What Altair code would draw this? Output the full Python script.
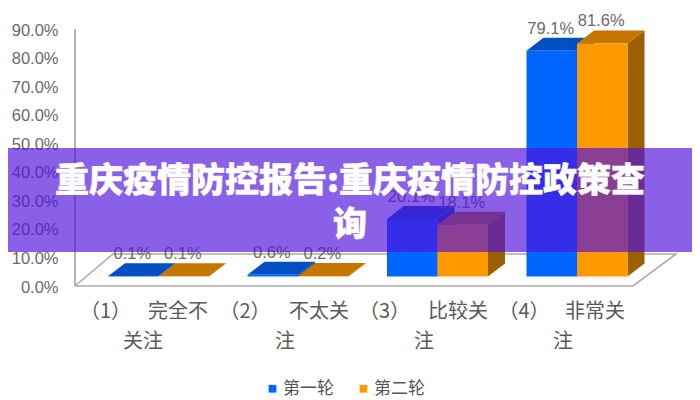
import altair as alt
import pandas as pd

categories = [0, 1, 2, 3]
first_round = [0.001, 0.006, 0.201, 0.791]
second_round = [0.001, 0.002, 0.181, 0.816]
series_names = ["第一轮", "第二轮"]
tick_prefix = ["（1）", "（2）", "（3）", "（4）"]
label_line1 = ["完全不", "不太关", "比较关", "非常关"]
label_line2 = ["关注", "注", "注", "注"]
banner_lines = ["重庆疫情防控报告:重庆疫情防控政策查", "询"]

# layout, in data units (1 x unit = one category)
PXX = 139.5
PXY = 257 / 0.9
PLOT_W = 617
X_MAX = PLOT_W / PXX
GROUP_LEFT = 33 / PXX
BAR_W = 50.5 / PXX
DX = 17 / PXX
DY = 13 / PXY
BASE = 9.5 / PXY
FLOOR_DX1 = 38 / PXX
FLOOR_DY = 32 / PXY
FLOOR_RIGHT = 558 / PXX
FLOOR_BACK_RIGHT = 601 / PXX

x_scale = alt.Scale(domain=[0, X_MAX], nice=False, zero=False)
y_scale = alt.Scale(domain=[0, 0.9], nice=False, zero=False)
y_axis = alt.Axis(
    title=None, format=".1%", values=[i / 10 for i in range(10)],
    grid=False, ticks=False, domain=False, labelPadding=17, labelOffset=1,
    labelFont="Liberation Sans", labelFontSize=16.5, labelColor="#6a6a6a")
FRONT = {"第一轮": "#0066ff", "第二轮": "#ff9900"}
TOP = {"第一轮": "#0050c4", "第二轮": "#c47600"}
SIDE = {"第一轮": "#0044a0", "第二轮": "#9c6000"}

rows = []
for s, (name, vals) in enumerate(zip(series_names, [first_round, second_round])):
    for c, v in zip(categories, vals):
        xl = c + GROUP_LEFT + s * BAR_W
        rows.append(dict(series=name, group=c, v=v, xl=xl, xr=xl + BAR_W,
                         top=BASE + v, base=BASE, label=f"{v*100:.1f}%",
                         xc=xl + BAR_W / 2 - 1 / PXX))
bars = pd.DataFrame(rows)

X = lambda f: alt.X(f, type="quantitative", scale=x_scale, axis=None)
Y = lambda f: alt.Y(f, type="quantitative", scale=y_scale, stack=None,
                    axis=y_axis)

# floor outline
floor = pd.DataFrame({
    "x": [0, FLOOR_RIGHT, FLOOR_BACK_RIGHT, FLOOR_DX1, 0],
    "y": [0, 0, FLOOR_DY, FLOOR_DY, 0],
    "o": [0, 1, 2, 3, 4],
})
floor_line = alt.Chart(floor).mark_line(color="#ababab", strokeWidth=1.6).encode(
    x=X("x"), y=Y("y"), order=alt.Order("o:Q"))

# back wall edge
axis_layer = alt.Chart(pd.DataFrame({"y": [0, 0.9], "x": [0, 0]})).mark_line(
    color="#808080", strokeWidth=1.2).encode(x=X("x"), y=Y("y"))

layers = [axis_layer, floor_line]
for name in series_names:
    b = bars[bars.series == name]
    side = []
    top = []
    for r in b.to_dict("records"):
        side += [dict(id=r["group"], x=r["xr"], y=r["top"], y2=r["base"]),
                 dict(id=r["group"], x=r["xr"] + DX, y=r["top"] + DY, y2=r["base"] + DY)]
        top += [dict(id=r["group"], y=r["top"], x=r["xl"], x2=r["xr"]),
                dict(id=r["group"], y=r["top"] + DY, x=r["xl"] + DX, x2=r["xr"] + DX)]
    layers.append(alt.Chart(pd.DataFrame(side)).mark_area(
        color=SIDE[name], orient="vertical").encode(
        x=X("x"), y=Y("y"), y2="y2", detail="id:N"))
    layers.append(alt.Chart(pd.DataFrame(top)).mark_area(
        color=TOP[name], orient="horizontal").encode(
        y=Y("y"), x=X("x"), x2="x2", detail="id:N"))
    layers.append(alt.Chart(b).mark_rect().encode(
        x=X("xl"), x2="xr", y=Y("base"), y2="top",
        color=alt.Color("series:N", scale=alt.Scale(
            domain=series_names, range=[FRONT[n] for n in series_names]),
            legend=alt.Legend(
                title=None, orient="none", direction="horizontal",
                legendX=189, legendY=351, symbolType="square", symbolSize=60,
                labelFont="Noto Sans CJK SC", labelFontSize=17,
                labelColor="#555555", columnPadding=21, labelOffset=2,
                labelLimit=200))))

# value labels
layers.append(alt.Chart(bars).mark_text(
    font="Liberation Sans", fontSize=16.5, color="#6a6a6a", dy=-22, baseline="middle"
).encode(x=X("xc"), y=Y("top"), text="label:N"))

# category labels
L1Y = -26 / PXY
L2Y = -56 / PXY
cat_rows = []
for c in categories:
    cat_rows.append(dict(x=c + 5 / PXX, y=L1Y, t=tick_prefix[c]))
line1_x = [73, 214, 353, 490]
line2_x = [48, 200, 339, 478]
for c in categories:
    cat_rows.append(dict(x=line1_x[c] / PXX, y=L1Y, t=label_line1[c]))
    cat_rows.append(dict(x=line2_x[c] / PXX, y=L2Y, t=label_line2[c]))
layers.append(alt.Chart(pd.DataFrame(cat_rows)).mark_text(
    font="Noto Sans CJK SC", fontSize=20, color="#5a5a5a", align="left",
    baseline="middle").encode(x=X("x"), y=Y("y"), text="t:N"))

# banner overlay
one = pd.DataFrame({"a": [0]})
layers.append(alt.Chart(one).mark_rect(color="#5012dd", opacity=0.67).encode(
    x=alt.value(-67), x2=alt.value(PLOT_W), y=alt.value(119), y2=alt.value(223)))
for line, py in zip(banner_lines, [153, 197]):
    layers.append(alt.Chart(pd.DataFrame({"t": [line]})).mark_text(
        font="Noto Sans CJK SC", fontSize=34, fontWeight=900, color="white",
        stroke="white", strokeWidth=0.5, align="center", baseline="middle"
    ).encode(x=alt.value(275), y=alt.value(py), text="t:N"))

chart = alt.layer(*layers).properties(
    width=PLOT_W, height=257,
    padding={"left": 67, "top": 21, "right": 0, "bottom": 113},
    autosize=alt.AutoSizeParams(type="none"),
    background="white",
).configure_view(stroke=None)

chart.save("out.html", embed_options={"renderer": "svg", "actions": False})
